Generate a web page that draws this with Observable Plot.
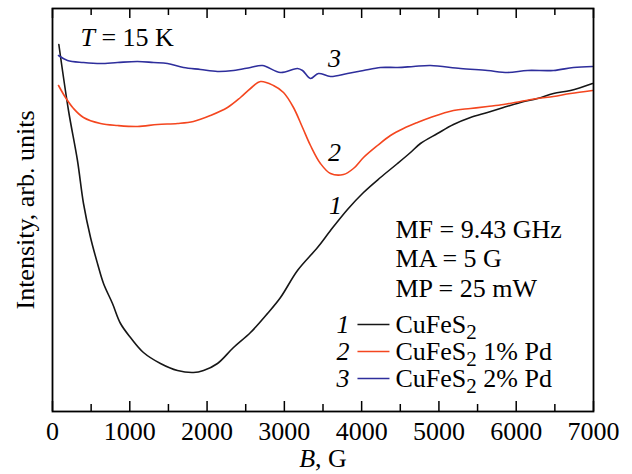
<!DOCTYPE html>
<html><head><meta charset="utf-8">
<script src="https://cdn.jsdelivr.net/npm/d3@7"></script>
<script src="https://cdn.jsdelivr.net/npm/@observablehq/plot@0.6"></script>
<style>body{margin:0;background:#fff}</style>
</head><body><div id="chart"></div>
<script>
// ---- data (B in gauss, intensity in arbitrary units) ----
const seriesNames = ["CuFeS2", "CuFeS2 1% Pd", "CuFeS2 2% Pd"];
const curveLabels = ["1", "2", "3"];
const colors = ["#161616", "#f4461f", "#2e2e9c"];

const B1 = [82,207,323,401,492,582,660,776,880,1009,1177,1397,1617,1824,1954,2135,2342,2562,2782,2950,3170,3429,3597,3817,4024,4244,4464,4632,4761,4981,5188,5408,5628,5835,6055,6275,6482,6702,6987];
const I1 = [367,301,251,208,174,148,128,108,88,74,59,48,41,39,41,48,64,79,98,114,141,164,181,202,219,234,248,259,268,278,287,294,299,304,309,313,318,321,328];

const B2 = [78,168,272,401,621,841,1100,1359,1617,1824,2044,2264,2432,2562,2691,2859,2989,3118,3235,3338,3467,3597,3765,3894,4024,4205,4373,4541,4722,4891,5188,5408,5628,5835,6055,6275,6482,6702,6987];
const I2 = [326,314,303,294,288,286,285,287,288,290,296,304,314,323,330,326,319,304,284,266,248,238,237,243,254,266,276,283,289,294,301,303,305,307,310,313,315,318,321];

const B3 = [78,194,401,621,841,1100,1307,1488,1695,1915,2135,2342,2562,2717,2950,3170,3235,3338,3441,3597,3817,4024,4244,4464,4671,4891,5279,5628,5887,6146,6482,6741,6987];
const I3 = [356,351,349,348,349,350,349,348,344,342,340,341,344,346,339,343,341,333,338,335,338,341,344,344,345,346,343,341,339,341,341,344,345];

const majorTicks = [0,1000,2000,3000,4000,5000,6000,7000];
const minorTicks = [500,1500,2500,3500,4500,5500,6500];
const annotations = ["T = 15 K", "MF = 9.43 GHz", "MA = 5 G", "MP = 25 mW"];
const xLabel = "B, G";
const yLabel = "Intensity, arb. units";

// ---- layout (in data units) ----
const annotPos = [[362, 366], [4438, 174], [4438, 145], [4438, 115]];
const curveLabelPos = [[3662, 198], [3649, 251], [3649, 345]];
const LEG = {numX: 3843, lineX1: 3946, lineX2: 4360, textX: 4438, rowY: [79, 52, 25], lineDy: 8};

const lines = [[B1, I1], [B2, I2], [B3, I3]].flatMap(([bs, is], s) =>
  bs.map((b, k) => ({B: b, I: is[k], s, color: colors[s]})));
const annot = annotations.map((t, i) => ({t, x: annotPos[i][0], y: annotPos[i][1]}));
const cLabels = curveLabels.map((t, i) => ({t, x: curveLabelPos[i][0], y: curveLabelPos[i][1]}));
const legend = seriesNames.map((name, i) => ({name, num: curveLabels[i], color: colors[i], y: LEG.rowY[i]}));

const plotH = 474 - 8 - 63;
const chart = Plot.plot({
  width: 632, height: 474,
  marginLeft: 52, marginRight: 39, marginTop: 8, marginBottom: 63,
  style: {fontFamily: "'Liberation Serif', 'Times New Roman', serif", fontSize: "26px", background: "white", color: "black", overflow: "visible"},
  x: {domain: [0, 7000]},
  y: {domain: [0, 403], axis: null},
  color: {type: "identity"},
  marks: [
    Plot.line(lines, {x: "B", y: "I", z: "s", stroke: "color", strokeWidth: 1.6, curve: "catmull-rom"}),
    Plot.frame({stroke: "black", strokeWidth: 1.8}),
    Plot.tickX(majorTicks, {x: d => d, insetTop: plotH - 10, stroke: "black", strokeWidth: 1.5}),
    Plot.tickX(majorTicks, {x: d => d, insetBottom: plotH - 10, stroke: "black", strokeWidth: 1.5}),
    Plot.tickX(minorTicks, {x: d => d, insetTop: plotH - 7, stroke: "black", strokeWidth: 1.5}),
    Plot.tickX(minorTicks, {x: d => d, insetBottom: plotH - 7, stroke: "black", strokeWidth: 1.5}),
    Plot.axisX({ticks: majorTicks, tickSize: 0, tickPadding: 10, tickFormat: d => String(d), label: null, fontSize: 26}),
    Plot.text([xLabel], {frameAnchor: "bottom", dy: 55, lineAnchor: "bottom", fontSize: 26}),
    Plot.text([yLabel], {frameAnchor: "left", rotate: -90, dx: -27, textAnchor: "middle", lineAnchor: "middle", fontSize: 26}),
    Plot.text(annot, {x: "x", y: "y", text: "t", textAnchor: "start", lineAnchor: "bottom", fontSize: 26}),
    Plot.text(cLabels, {x: "x", y: "y", text: "t", textAnchor: "middle", lineAnchor: "bottom", fontStyle: "italic", fontSize: 26}),
    Plot.text(legend, {x: () => LEG.numX, y: "y", text: "num", textAnchor: "end", lineAnchor: "bottom", fontStyle: "italic", fontSize: 26}),
    Plot.link(legend, {x1: () => LEG.lineX1, x2: () => LEG.lineX2, y1: d => d.y + LEG.lineDy, y2: d => d.y + LEG.lineDy, stroke: "color", strokeWidth: 1.6}),
    Plot.text(legend, {x: () => LEG.textX, y: "y", text: "name", textAnchor: "start", lineAnchor: "bottom", fontSize: 26})
  ]
});
document.getElementById("chart").appendChild(chart);

// rich-text formatting: italics and subscripts
d3.select(chart).selectAll("text").each(function () {
  const el = d3.select(this);
  const s = this.textContent;
  if (this.querySelector("tspan")) return;
  if (s === "T = 15 K" || s === "B, G") {
    el.text("");
    el.append("tspan").attr("font-style", "italic").text(s[0]);
    el.append("tspan").text(s.slice(1));
  } else if (s.startsWith("CuFeS2")) {
    el.text("");
    el.append("tspan").text("CuFeS");
    el.append("tspan").attr("font-size", "21px").attr("dy", 6).text("2");
    const rest = s.slice(6);
    if (rest) el.append("tspan").attr("dy", -6).text(rest);
  }
});
</script>
</body></html>
